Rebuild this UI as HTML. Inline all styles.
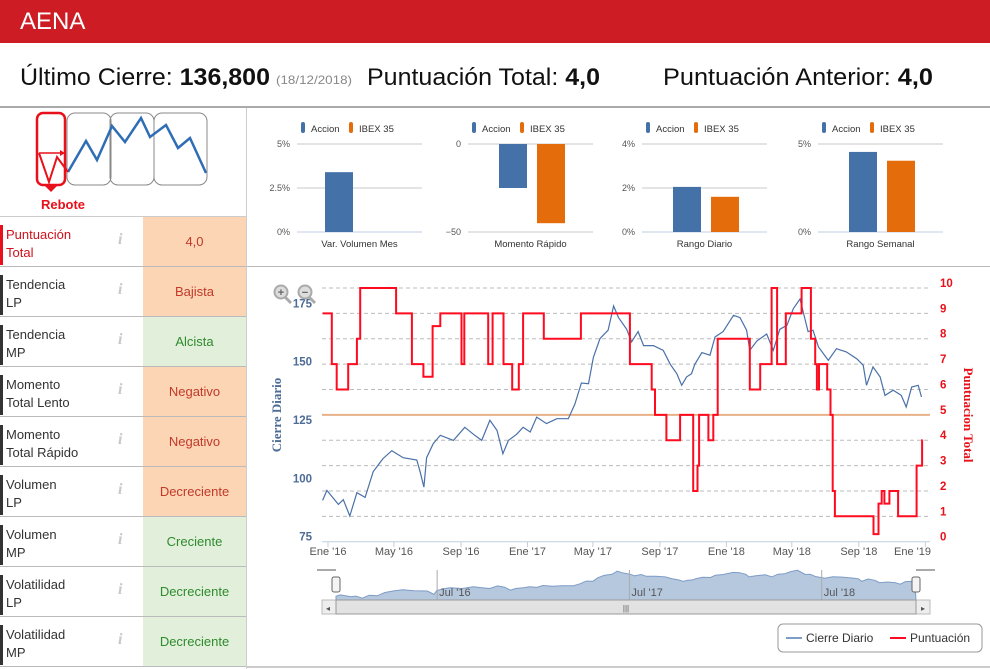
<!DOCTYPE html>
<html><head><meta charset="utf-8">
<style>
body{margin:0;width:990px;height:669px;overflow:hidden;background:#fff;font-family:"Liberation Sans",sans-serif;position:relative}
.row{position:absolute;left:0;width:246px;height:49px;border-bottom:1px solid #bbb}
.lbl{position:absolute;left:6px;top:9px;font-size:13px;line-height:18px;color:#333}
.bar{position:absolute;left:0;top:8px;width:3px;height:40px;background:#333}
.ic{position:absolute;left:118px;top:14px;font:italic bold 16px "Liberation Serif",serif;color:#c8c8c8}
.val{position:absolute;left:143px;top:0;width:103px;height:49px;line-height:49px;text-align:center;font-size:13px}
.o{background:#fcd5b4}.g{background:#e2efda}
</style></head><body>
<div style="position:absolute;left:0;top:0;width:990px;height:43px;background:#cd1c24"></div>
<div style="position:absolute;left:20px;top:8px;color:#fff;font-size:24px">AENA</div>
<svg style="position:absolute;left:0;top:43px" width="990" height="64">
<text x="20" y="42" font-size="24" fill="#111" textLength="250" lengthAdjust="spacingAndGlyphs">Último Cierre: <tspan font-weight="bold">136,800</tspan></text>
<text x="276" y="41" font-size="12" fill="#888" textLength="76" lengthAdjust="spacingAndGlyphs">(18/12/2018)</text>
<text x="367" y="42" font-size="24" fill="#111" textLength="233" lengthAdjust="spacingAndGlyphs">Puntuación Total: <tspan font-weight="bold">4,0</tspan></text>
<text x="663" y="42" font-size="24" fill="#111" textLength="270" lengthAdjust="spacingAndGlyphs">Puntuación Anterior: <tspan font-weight="bold">4,0</tspan></text>
</svg>
<div style="position:absolute;left:0;top:106px;width:990px;height:2px;background:#aaa"></div>
<div style="position:absolute;left:246px;top:108px;width:1px;height:561px;background:#ccc"></div>
<div style="position:absolute;left:247px;top:266px;width:743px;height:1px;background:#bbb"></div>

<svg style="position:absolute;left:30px;top:108px" width="190" height="105">
<rect x="37" y="5" width="44" height="72" rx="8" fill="none" stroke="#888" stroke-width="1"/>
<rect x="80" y="5" width="44" height="72" rx="8" fill="none" stroke="#888"/>
<rect x="124" y="5" width="53" height="72" rx="8" fill="none" stroke="#888"/>
<polyline points="38,64 56,33 67,52 82,18 95,34 111,10 120,29 136,17 148,40 160,30 176,65" fill="none" stroke="#2f6db5" stroke-width="2.5"/>
<rect x="7" y="5" width="28" height="72" rx="6" fill="none" stroke="#e8101a" stroke-width="2.5"/>
<polygon points="14,77 28,77 21,84" fill="#e8101a"/>
<polyline points="9,45 19,74 27,49 38,64" fill="none" stroke="#e8101a" stroke-width="2"/>
<line x1="9" y1="45" x2="30" y2="45" stroke="#e8101a" stroke-width="1.5"/><polygon points="30,42 35,45 30,48" fill="#e8101a"/>
<text x="33" y="101" font-size="13" font-weight="bold" fill="#e8101a" text-anchor="middle">Rebote</text>
</svg>

<div style="position:absolute;left:0;top:216px;width:246px;height:1px;background:#ccc"></div>
<div class="row" style="top:217px"><div class="bar" style="background:#e8101a"></div><div class="lbl" style="color:#d0101a">Puntuación<br>Total</div><div class="ic">i</div><div class="val o" style="color:#c0392b">4,0</div></div>
<div class="row" style="top:267px"><div class="bar"></div><div class="lbl">Tendencia<br>LP</div><div class="ic">i</div><div class="val o" style="color:#c0392b">Bajista</div></div>
<div class="row" style="top:317px"><div class="bar"></div><div class="lbl">Tendencia<br>MP</div><div class="ic">i</div><div class="val g" style="color:#2e8b2e">Alcista</div></div>
<div class="row" style="top:367px"><div class="bar"></div><div class="lbl">Momento<br>Total Lento</div><div class="ic">i</div><div class="val o" style="color:#c0392b">Negativo</div></div>
<div class="row" style="top:417px"><div class="bar"></div><div class="lbl">Momento<br>Total Rápido</div><div class="ic">i</div><div class="val o" style="color:#c0392b">Negativo</div></div>
<div class="row" style="top:467px"><div class="bar"></div><div class="lbl">Volumen<br>LP</div><div class="ic">i</div><div class="val o" style="color:#c0392b">Decreciente</div></div>
<div class="row" style="top:517px"><div class="bar"></div><div class="lbl">Volumen<br>MP</div><div class="ic">i</div><div class="val g" style="color:#2e8b2e">Creciente</div></div>
<div class="row" style="top:567px"><div class="bar"></div><div class="lbl">Volatilidad<br>LP</div><div class="ic">i</div><div class="val g" style="color:#2e8b2e">Decreciente</div></div>
<div class="row" style="top:617px"><div class="bar"></div><div class="lbl">Volatilidad<br>MP</div><div class="ic">i</div><div class="val g" style="color:#2e8b2e">Decreciente</div></div>

<svg id="bars" style="position:absolute;left:0;top:0" width="990" height="266"></svg>
<svg id="main" style="position:absolute;left:0;top:0" width="990" height="669"></svg>

<script>
// ---- bar chart data ----
const barTitles=["Var. Volumen Mes","Momento Rápido","Rango Diario","Rango Semanal"];
const barAccion=[3.4,-25,2.05,4.55];
const barIbex=[null,-45,1.6,4.05];
const barMin=[0,-50,0,0];
const barMax=[5,0,4,5];
const barTickLabels=[["0%","2.5%","5%"],["−50","0"],["0%","2%","4%"],["0%","5%"]];
// ---- main chart data ----
const priceDays=[-10,-2,19,28,40,53,68,83,101,117,138,163,169,176,181,193,206,230,251,267,282,297,310,321,331,346,358,371,383,401,420,441,453,465,478,487,499,514,524,533,548,557,569,579,597,615,628,640,649,658,667,673,686,701,710,725,744,756,768,774,787,805,817,829,842,854,866,881,890,900,918,933,951,970,982,988,1000,1013,1022,1037,1052,1061,1071,1083,1089];
const priceVals=[92.7,97,91,93,86,96,94,105,110.6,114,111,110,105,98.4,111,117,120.6,118.4,124,121,118.4,127,122.7,112.7,118.4,121,124,122,128.4,125.6,127.7,127.7,134,143,142.7,154,162,165.6,176,171,166,160.6,165,159,159,157,151,147,142,145.6,147,151,156,154.9,162.7,165,172,171,165.6,157,161,164,157,166,167.7,174.9,179,165,165.6,158.4,152.7,157.7,156.3,153.4,150.6,142,149.9,145.6,137.7,139.9,137.7,132.7,141.3,142,137];
const scoreDays=[-10,7,16,37,53,59,125,154,175,192,206,245,250,294,302,322,338,350,358,396,464,554,594,600,621,646,670,678,681,698,707,715,774,793,814,824,840,869,886,894,897,901,916,922,926,930,1001,1010,1016,1021,1030,1046,1080,1090];
const scoreVals=[9,7,6,7,8,10,9,7,6.5,8.5,9,7,9,7,9,7,6,7,9,8,9,7,6,5,4,5,2,3,5,4,5,8,6,7,10,7,9,10,8,7,6,7,6,5,2,1,0.3,1.5,2,1.5,2,1,3,4];
const scoreEndDay=1091;
const monthTicks=[0,121,244,366,486,609,731,851,974,1096];
const monthLabels=["Ene '16","May '16","Sep '16","Ene '17","May '17","Sep '17","Ene '18","May '18","Sep '18","Ene '19"];
const leftTicks=[75,100,125,150,175];
const rightTicks=[0,1,2,3,4,5,6,7,8,9,10];
const navTicks=[182,547,912];
const navLabels=["Jul '16","Jul '17","Jul '18"];

const NS="http://www.w3.org/2000/svg";
function mk(p,t,a){const e=document.createElementNS(NS,t);for(const k in a)e.setAttribute(k,a[k]);p.appendChild(e);return e;}

// bars
const bs=document.getElementById('bars');
const bx0=[297,468,642,818], bw=125, yTop=144, yBot=232;
barTitles.forEach((t,i)=>{
  const yv=v=>yBot-(v-barMin[i])/(barMax[i]-barMin[i])*(yBot-yTop);
  const g=mk(bs,'g',{});
  
  
  const lx=bx0[i]+4;
  let r=mk(g,'rect',{x:lx,y:122,width:4,height:11,rx:2,fill:'#4472a8'});
  
  mk(g,'text',{x:lx+10,y:132,'font-size':9.5,fill:'#333'}).textContent='Accion';
  r=mk(g,'rect',{x:lx+48,y:122,width:4,height:11,rx:2,fill:'#e46c0a'});
  
  mk(g,'text',{x:lx+58,y:132,'font-size':9.5,fill:'#333'}).textContent='IBEX 35';
  barTickLabels[i].forEach((lab,k,arr)=>{
    const v=barMin[i]+(barMax[i]-barMin[i])*k/(arr.length-1);
    const y=yv(v);
    mk(g,'line',{x1:bx0[i],x2:bx0[i]+bw,y1:y,y2:y,stroke:k==0&&barMin[i]==0?'#c0cfe0':'#c8c8c8','stroke-width':1});
    mk(g,'text',{x:bx0[i]-7,y:y+3,'font-size':9,fill:'#555','text-anchor':'end'}).textContent=lab;
  });
  const z=yv(0);
  const a=barAccion[i], b=barIbex[i];
  const ax=b===null?bx0[i]+28:bx0[i]+31;
  r=mk(g,'rect',{x:ax,y:Math.min(z,yv(a)),width:28,height:Math.abs(yv(a)-z),fill:'#4472a8'});
  
  if(b!==null){r=mk(g,'rect',{x:ax+38,y:Math.min(z,yv(b)),width:28,height:Math.abs(yv(b)-z),fill:'#e46c0a'});
  }
  mk(g,'text',{x:bx0[i]+bw/2,y:247,'font-size':9.5,fill:'#333','text-anchor':'middle'}).textContent=t;
});

// main chart
const ms=document.getElementById('main');
const X=d=>328+d*0.545;
const YL=v=>541.7-(v-75)*2.334;
const YR=v=>541.7-v*25.37;
rightTicks.forEach(v=>{if(v>0&&v!=5)mk(ms,'line',{x1:322,x2:930,y1:YR(v),y2:YR(v),stroke:'#bbb','stroke-dasharray':'4,3'});});
let ol=mk(ms,'line',{x1:322,x2:930,y1:YR(5),y2:YR(5),stroke:'#e8b088','stroke-width':2});

mk(ms,'line',{x1:322,x2:930,y1:541.7,y2:541.7,stroke:'#c0cfe0'});
monthTicks.forEach((d,i)=>{const x=X(d);mk(ms,'line',{x1:x,x2:x,y1:541.7,y2:547,stroke:'#c0cfe0'});
  const t=mk(ms,'text',{x:i==9?931:x,y:555,'font-size':11,fill:'#555','text-anchor':i==9?'end':'middle'});t.textContent=monthLabels[i];
  });
leftTicks.forEach(v=>{const t=mk(ms,'text',{x:312,y:YL(v)-1,'font-size':11.5,'font-weight':'bold',fill:'#4d6c96','text-anchor':'end'});t.textContent=v;
  });
rightTicks.forEach(v=>{const t=mk(ms,'text',{x:940,y:YR(v)-1,'font-size':11.5,'font-weight':'bold',fill:'#e8101a'});t.textContent=v;
  });
let tt=mk(ms,'text',{x:0,y:0,'font-size':13,'font-weight':'bold','font-family':'Liberation Serif,serif',fill:'#4d6c96','text-anchor':'middle',transform:'translate(281,415) rotate(-90)'});tt.textContent='Cierre Diario';

tt=mk(ms,'text',{x:0,y:0,'font-size':13,'font-weight':'bold','font-family':'Liberation Serif,serif',fill:'#e8101a','text-anchor':'middle',transform:'translate(964,415) rotate(90)'});tt.textContent='Puntuacion Total';

// price line
let pts=priceDays.map((d,i)=>X(d).toFixed(1)+','+YL(priceVals[i]).toFixed(1)).join(' ');
let pl=mk(ms,'polyline',{points:pts,fill:'none',stroke:'#4a70a8','stroke-width':1.2});

// score step line
let sp=[];scoreDays.forEach((d,i)=>{const y=YR(scoreVals[i]).toFixed(1);if(i>0)sp.push(X(d).toFixed(1)+','+YR(scoreVals[i-1]).toFixed(1));sp.push(X(d).toFixed(1)+','+y);});
sp.push(X(scoreEndDay).toFixed(1)+','+YR(scoreVals[scoreVals.length-1]).toFixed(1));
let sl=mk(ms,'polyline',{points:sp.join(' '),fill:'none',stroke:'#ff0a1e','stroke-width':2});

// zoom icons
[[281,'+','zoom-in-button'],[305,'−','zoom-out-button']].forEach(z=>{const g=mk(ms,'g',{});
  
  mk(g,'line',{x1:z[0]+4,y1:297,x2:z[0]+10,y2:303,stroke:'#aaa','stroke-width':3});
  mk(g,'circle',{cx:z[0],cy:292,r:6.5,fill:'#ddd',stroke:'#aaa','stroke-width':2});
  mk(g,'text',{x:z[0],y:296,'font-size':11,'font-weight':'bold',fill:'#666','text-anchor':'middle'}).textContent=z[1];});
// navigator
const NX=d=>336+(d+10)*(580/1101);
const NY=v=>600-(v-80)*0.3;
let np='336,600 '+priceDays.map((d,i)=>NX(d).toFixed(1)+','+NY(priceVals[i]).toFixed(1)).join(' ')+' 916,600';
let na=mk(ms,'polygon',{points:np,fill:'#b6c8de',stroke:'#7d9cc6','stroke-width':1});

navTicks.forEach((d,i)=>{const x=NX(d);mk(ms,'line',{x1:x,x2:x,y1:570,y2:600,stroke:'#aaa'});
  mk(ms,'text',{x:x+2,y:596,'font-size':11,fill:'#555'}).textContent=navLabels[i];});
mk(ms,'line',{x1:317,x2:336,y1:570,y2:570,stroke:'#555'});mk(ms,'line',{x1:916,x2:935,y1:570,y2:570,stroke:'#555'});
[336,916].forEach(x=>{const h=mk(ms,'rect',{x:x-4,y:577,width:8,height:15,rx:2,fill:'#f4f4f4',stroke:'#666'});
  });
let sb=mk(ms,'rect',{x:322,y:600,width:608,height:14,fill:'#eee',stroke:'#bbb'});

mk(ms,'rect',{x:336,y:600,width:580,height:14,fill:'#e2e2e2',stroke:'#999'});
mk(ms,'text',{x:626,y:611,'font-size':8,fill:'#555','text-anchor':'middle'}).textContent='|||';
mk(ms,'text',{x:326,y:611,'font-size':8,fill:'#555'}).textContent='◂';
mk(ms,'text',{x:921,y:611,'font-size':8,fill:'#555'}).textContent='▸';
// legend
const lg=mk(ms,'g',{});
mk(lg,'rect',{x:778,y:624,width:204,height:28,rx:5,fill:'#fff',stroke:'#999'});
let le=mk(lg,'line',{x1:786,x2:802,y1:638,y2:638,stroke:'#7d9cc6','stroke-width':2});

mk(lg,'text',{x:806,y:642,'font-size':12,fill:'#333'}).textContent='Cierre Diario';
le=mk(lg,'line',{x1:890,x2:906,y1:638,y2:638,stroke:'#ff0a1e','stroke-width':2});

mk(lg,'text',{x:910,y:642,'font-size':12,fill:'#333'}).textContent='Puntuación';
mk(ms,'line',{x1:247,x2:990,y1:667,y2:667,stroke:'#999'});
</script>
</body></html>
